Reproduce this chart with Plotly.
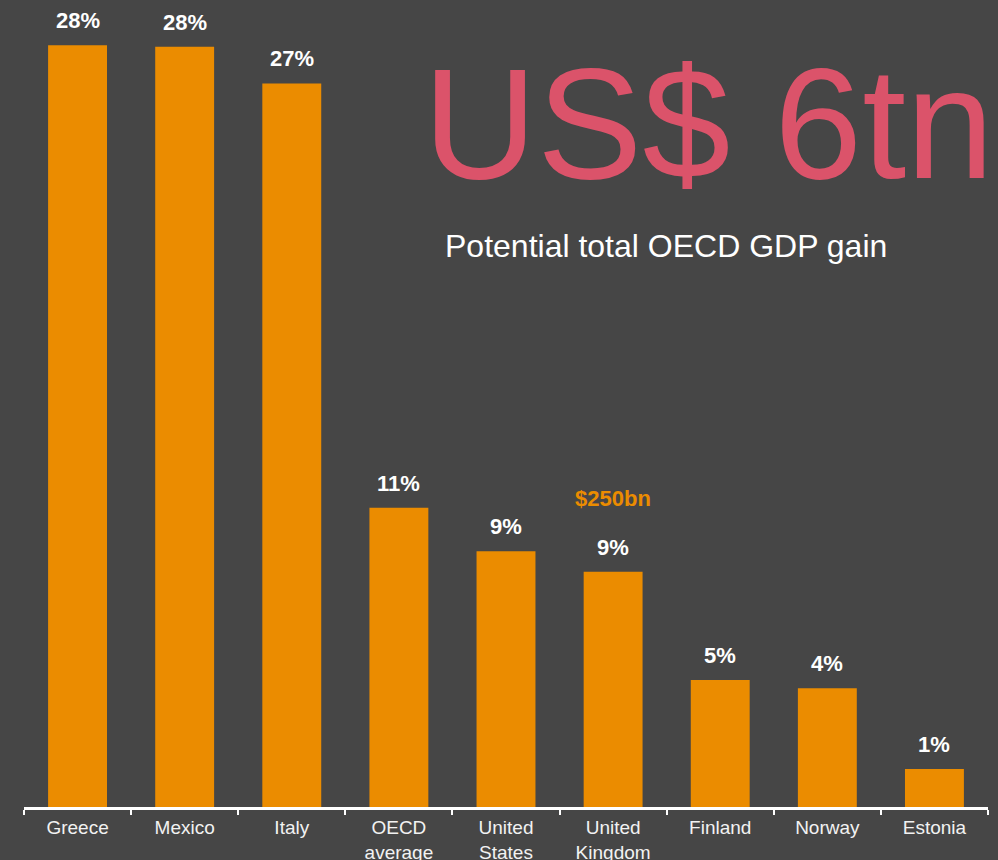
import plotly.graph_objects as go

categories = ["Greece", "Mexico", "Italy", "OECD<br>average", "United<br>States",
              "United<br>Kingdom", "Finland", "Norway", "Estonia"]
values = [28.0, 27.95, 26.6, 11.0, 9.4, 8.65, 4.67, 4.37, 1.4]
labels = ["28%", "28%", "27%", "11%", "9%", "9%", "5%", "4%", "1%"]

BG = "#464646"
ORANGE = "#EB8C00"
PINK = "#DB536A"
FONT = "Liberation Sans, Arial"

fig = go.Figure()
fig.add_trace(go.Bar(x=categories, y=values, marker=dict(color=ORANGE, line=dict(width=0)),
                     hoverinfo="skip"))

for c, v, t in zip(categories, values, labels):
    fig.add_annotation(x=c, y=v, text="<b>%s</b>" % t, showarrow=False, yanchor="bottom",
                       yshift=10, font=dict(family=FONT, size=22, color="white"))

fig.add_annotation(x="United<br>Kingdom", y=0.3877, yref="paper", text="<b>$250bn</b>",
                   showarrow=False, yanchor="middle",
                   font=dict(family=FONT, size=22, color=ORANGE))
fig.add_annotation(x=0.412, y=0.8576, xref="paper", yref="paper", text="US$ 6tn",
                   showarrow=False, xanchor="left", yanchor="middle",
                   font=dict(family=FONT, size=158, color=PINK))
fig.add_annotation(x=0.666, y=0.7045, xref="paper", yref="paper", text="Potential total OECD GDP gain",
                   showarrow=False, xanchor="center", yanchor="middle",
                   font=dict(family=FONT, size=32, color="white"))

fig.update_layout(
    width=998, height=860,
    margin=dict(l=24, r=10, t=10, b=53),
    paper_bgcolor=BG, plot_bgcolor=BG,
    bargap=0.45, showlegend=False,
    xaxis=dict(showline=True, linecolor="white", linewidth=3, ticks="outside",
               tickson="boundaries", ticklen=5, tickcolor="white", tickwidth=2,
               ticklabelstandoff=1, automargin=False,
               tickfont=dict(family=FONT, size=19, color="#F2F2F2"),
               showgrid=False, fixedrange=True),
    yaxis=dict(range=[0, 29.3], visible=False, showgrid=False, zeroline=False,
               automargin=False, fixedrange=True),
)
fig.write_html("out.html", config={"displayModeBar": False},
               post_script="document.body.style.margin='0';document.body.style.background='%s';" % BG)
